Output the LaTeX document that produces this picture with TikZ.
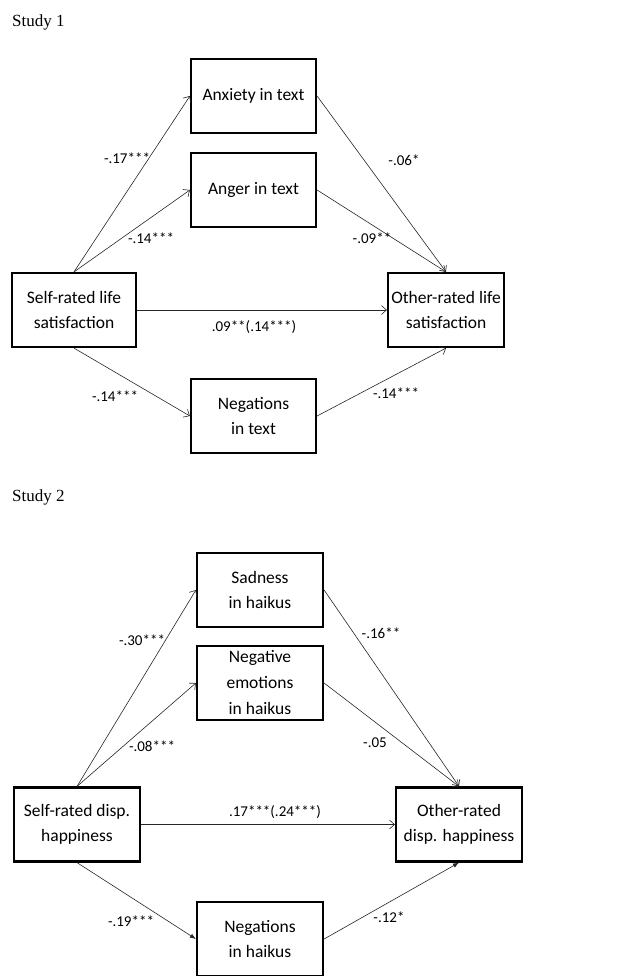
\documentclass[tikz,border=0pt]{standalone}
\usepackage{fontspec}
\setmainfont{Liberation Serif}
\newfontfamily\calfont{Carlito}
\usetikzlibrary{arrows.meta,positioning}

\tikzset{
  varbox/.style={draw,line width=2.2pt,minimum height=74pt,align=center,
                 inner sep=1pt,font=\calfont\fontsize{17.5}{25}\selectfont},
  coef/.style={inner sep=1pt,font=\calfont\fontsize{15}{17}\selectfont},
  link/.style={-{Straight Barb[length=5pt,width=9pt]},line width=0.6pt,black!85},
  flink/.style={-{Latex[length=6pt,width=4.5pt]},line width=0.6pt,black!85},
  studylbl/.style={anchor=west,inner sep=0pt,font=\fontsize{17}{19}\selectfont}
}

\begin{document}
\begin{tikzpicture}[x=1pt,y=-1pt]
 \useasboundingbox (0,0) rectangle (619,976);
 % study 1
 \node[studylbl] (st1) at (12,22) {Study 1};
 \node[varbox,minimum width=125pt] (anx) at (253.5,96) {Anxiety in text};
 \node[varbox,minimum width=125pt] (ang) at (253.5,190) {Anger in text};
 \node[varbox,minimum width=124pt] (slf) at (74,310) {Self-rated life\\satisfaction};
 \node[varbox,minimum width=116pt] (oth) at (446,310) {Other-rated life\\satisfaction};
 \node[varbox,minimum width=125pt] (neg) at (253.5,416) {Negations\\in text};
 \draw[link] (slf.north) -- (anx.west);
 \draw[link] (slf.north) -- (ang.west);
 \draw[link] (anx.east) -- (oth.north);
 \draw[link] (ang.east) -- (oth.north);
 \draw[link] (slf.east) -- (oth.west);
 \draw[link] (slf.south) -- (neg.west);
 \draw[link] (neg.east) -- (oth.south);
 \node[coef] (c1) at (127,158) {-.17***};
 \node[coef] (c2) at (151,238) {-.14***};
 \node[coef] (c3) at (404,160) {-.06*};
 \node[coef] (c4) at (372,238) {-.09**};
 \node[coef] (c5) at (254,327) {.09**(.14***)};
 \node[coef] (c6) at (115,396) {-.14***};
 \node[coef] (c7) at (396,393) {-.14***};
 % study 2
 \node[studylbl] (st2) at (12,497) {Study 2};
 \node[varbox,minimum width=126pt] (sad) at (260,590) {Sadness\\in haikus};
 \node[varbox,minimum width=126pt,font=\calfont\fontsize{17.5}{26}\selectfont] (nem) at (260,683) {Negative\\emotions\\in haikus};
 \node[varbox,minimum width=126pt] (shp) at (77,824.5) {Self-rated disp.\\happiness};
 \node[varbox,minimum width=126pt] (ohp) at (459,824.5) {Other-rated\\disp. happiness};
 \node[varbox,minimum width=126pt] (ngh) at (260,939) {Negations\\in haikus};
 \draw[link] (shp.north) -- (sad.west);
 \draw[link] (shp.north) -- (nem.west);
 \draw[link] (sad.east) -- (ohp.north);
 \draw[link] (nem.east) -- (ohp.north);
 \draw[link] (shp.east) -- (ohp.west);
 \draw[flink] (shp.south) -- (ngh.west);
 \draw[flink] (ngh.east) -- (ohp.south);
 \node[coef] (d1) at (142,640) {-.30***};
 \node[coef] (d2) at (152,746) {-.08***};
 \node[coef] (d3) at (381,633) {-.16**};
 \node[coef] (d4) at (375,743) {-.05};
 \node[coef] (d5) at (275,812) {.17***(.24***)};
 \node[coef] (d6) at (131,921) {-.19***};
 \node[coef] (d7) at (389,917) {-.12*};
\end{tikzpicture}
\end{document}
